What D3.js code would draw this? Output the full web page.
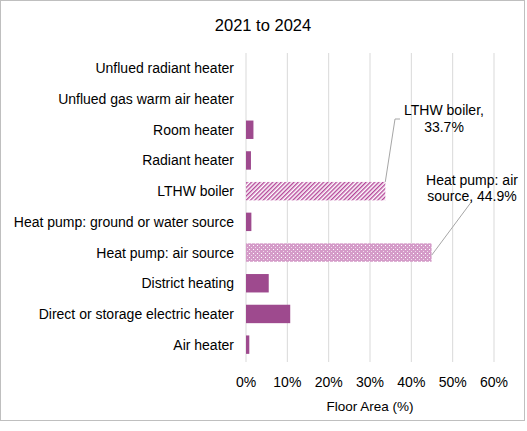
<!DOCTYPE html><html><head><script src="https://cdn.jsdelivr.net/npm/d3@7"></script>
<style>body{margin:0;background:#fff}text{font-family:Arial,"Liberation Sans",sans-serif;fill:#000}</style></head><body>
<svg id="c" width="527" height="431"></svg>
<script>
const categories=["Unflued radiant heater","Unflued gas warm air heater","Room heater","Radiant heater","LTHW boiler","Heat pump: ground or water source","Heat pump: air source","District heating","Direct or storage electric heater","Air heater"];
const values=[0,0,1.8,1.2,33.7,1.3,44.9,5.5,10.7,0.8];
const ticks=[0,10,20,30,40,50,60];
const svg=d3.select("#c");
const defs=svg.append("defs");
const p1=defs.append("pattern").attr("id","diag").attr("width",3).attr("height",3).attr("patternUnits","userSpaceOnUse").attr("patternTransform","rotate(45)");
p1.append("rect").attr("width",3).attr("height",3).attr("fill","#fff");
p1.append("rect").attr("width",1.4).attr("height",3).attr("fill","#b5479a");
const p2=defs.append("pattern").attr("id","dots").attr("width",4).attr("height",4).attr("patternUnits","userSpaceOnUse");
p2.append("rect").attr("width",4).attr("height",4).attr("fill","#d49bc8");
p2.append("rect").attr("x",1).attr("y",1).attr("width",1).attr("height",1).attr("fill","#fff");
p2.append("rect").attr("x",3).attr("y",3).attr("width",1).attr("height",1).attr("fill","#f0dcea");
svg.append("rect").attr("x",0.5).attr("y",0.5).attr("width",524).attr("height",420).attr("fill","none").attr("stroke","#bfbfbf");
const x=d3.scaleLinear().domain([0,60]).range([246,494]);
const y=d3.scaleBand().domain(categories).range([53,360]).paddingInner(0.4).paddingOuter(0.2);
svg.append("g").selectAll("line").data(ticks).join("line").attr("x1",d=>x(d)).attr("x2",d=>x(d)).attr("y1",53).attr("y2",362).attr("stroke","#d9d9d9");
svg.append("g").selectAll("rect").data(categories).join("rect").attr("x",x(0)).attr("y",d=>y(d)).attr("height",y.bandwidth())
 .attr("width",(d,i)=>x(values[i])-x(0)).attr("fill",(d,i)=>i===4?"url(#diag)":i===6?"url(#dots)":"#9e4a8e");
svg.append("g").selectAll("text").data(categories).join("text").attr("x",234).attr("y",d=>y(d)+y.bandwidth()/2+5).attr("text-anchor","end").attr("font-size",14).text(d=>d);
svg.append("g").selectAll("text").data(ticks).join("text").attr("x",d=>x(d)).attr("y",387).attr("text-anchor","middle").attr("font-size",14).text(d=>d+"%");
svg.append("text").attr("x",x(30)).attr("y",411).attr("text-anchor","middle").attr("font-size",13.5).text("Floor Area (%)");
svg.append("text").attr("x",263).attr("y",31).attr("text-anchor","middle").attr("font-size",16.5).text("2021 to 2024");
const yl=y(categories[4]), yh=y(categories[6]);
svg.append("polyline").attr("points",`${x(33.7)},${yl} 395,119 400,119`).attr("fill","none").attr("stroke","#a6a6a6");
svg.append("polyline").attr("points",`${x(44.9)},${yh+12} 472,201`).attr("fill","none").attr("stroke","#a6a6a6");
[["LTHW boiler,",444,115],["33.7%",444,132],["Heat pump: air",472,185],["source, 44.9%",472,201]].forEach(t=>svg.append("text").attr("x",t[1]).attr("y",t[2]).attr("text-anchor","middle").attr("font-size",14).text(t[0]));
</script></body></html>
